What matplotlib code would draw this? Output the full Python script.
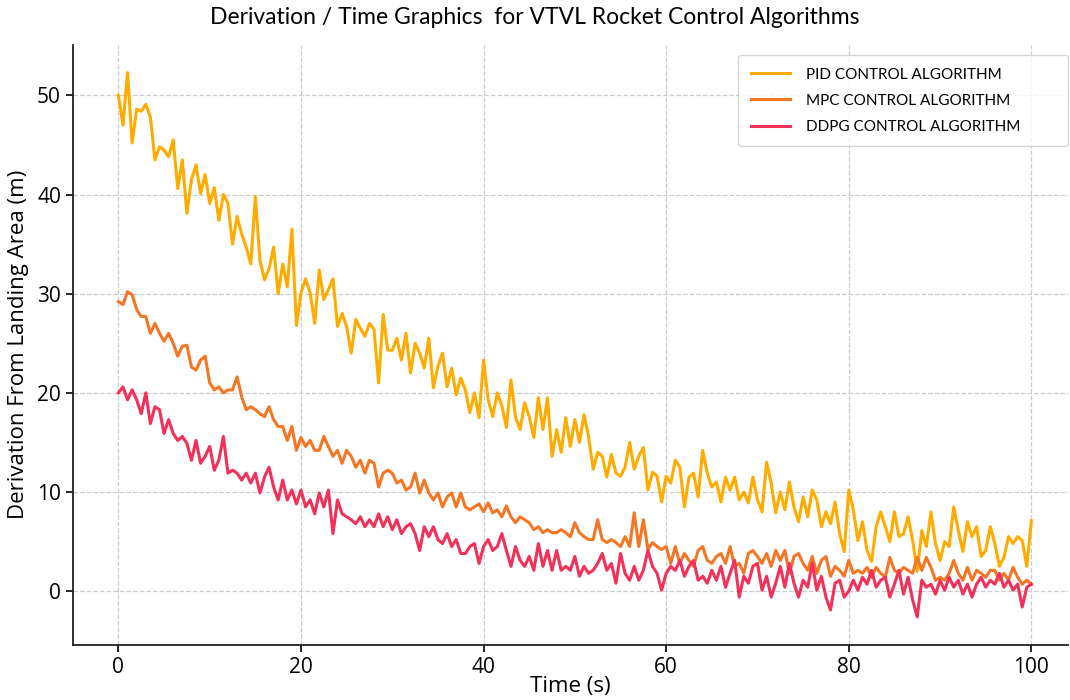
import numpy as np
import matplotlib
matplotlib.use("Agg")
import matplotlib.pyplot as plt

# time axis, one reading every half second
time_s = np.linspace(0, 100, 201)

pid = [
    50.0, 47.0, 52.3, 45.2, 48.6, 48.4, 49.1, 47.8, 43.5, 44.8,
    44.5, 43.8, 45.5, 40.6, 43.5, 38.1, 41.5, 43.0, 40.1, 42.0,
    39.1, 40.7, 37.4, 40.0, 39.1, 35.0, 37.8, 36.0, 34.7, 33.0,
    39.8, 33.4, 31.4, 32.5, 34.7, 30.0, 33.0, 30.7, 36.5, 26.8,
    30.1, 31.5, 30.1, 27.0, 32.4, 29.4, 30.4, 31.5, 26.7, 28.0,
    26.7, 24.0, 27.4, 26.5, 25.7, 27.0, 26.4, 21.0, 27.9, 24.3,
    24.3, 25.5, 23.3, 26.0, 22.0, 25.0, 24.0, 22.5, 25.5, 20.5,
    22.7, 24.0, 20.6, 22.5, 19.8, 21.5, 20.3, 18.0, 20.0, 17.5,
    23.3, 19.3, 17.6, 20.0, 18.7, 16.5, 21.3, 17.5, 16.3, 19.0,
    17.6, 15.5, 19.5, 16.3, 19.5, 13.6, 16.3, 14.0, 17.5, 14.6,
    17.3, 15.0, 17.8, 15.6, 12.3, 14.0, 13.6, 11.5, 13.8, 11.9,
    11.6, 12.5, 15.0, 12.3, 13.6, 14.5, 10.2, 12.0, 11.6, 9.0,
    11.6, 10.9, 13.2, 12.5, 8.5, 11.5, 11.9, 9.5, 14.2, 11.9,
    10.5, 11.0, 9.0, 11.5, 10.2, 11.5, 9.2, 10.0, 8.9, 11.5,
    9.2, 8.0, 13.0, 10.9, 7.9, 10.0, 8.2, 11.0, 8.5, 7.0,
    9.5, 7.5, 10.2, 9.2, 6.5, 8.0, 6.8, 9.0, 5.8, 4.0,
    10.2, 8.2, 5.1, 7.0, 4.1, 3.0, 6.5, 8.0, 6.5, 5.0,
    8.0, 5.5, 5.8, 7.5, 5.1, 2.0, 6.1, 4.5, 8.0, 4.8,
    3.1, 5.0, 4.5, 8.5, 6.1, 4.0, 7.0, 5.5, 6.5, 3.5,
    4.1, 6.5, 4.8, 2.5, 3.4, 5.5, 4.8, 5.5, 5.1, 2.5,
    7.1,
]

mpc = [
    29.2, 28.9, 30.2, 29.9, 28.4, 27.7, 27.7, 26.0, 27.0, 26.0,
    25.2, 26.0, 25.0, 23.7, 24.7, 24.8, 22.6, 22.3, 23.3, 23.7,
    21.0, 20.3, 20.6, 20.0, 20.3, 20.3, 21.6, 19.6, 18.3, 18.6,
    18.3, 17.9, 17.6, 18.6, 17.3, 16.6, 16.6, 15.2, 16.6, 14.2,
    15.5, 14.6, 15.2, 14.2, 14.2, 15.6, 14.6, 13.6, 14.2, 12.9,
    14.2, 13.6, 12.5, 13.2, 11.9, 13.2, 12.9, 10.5, 11.9, 12.2,
    11.9, 10.9, 11.2, 10.2, 10.5, 11.9, 9.9, 11.2, 9.9, 9.2,
    9.9, 8.5, 9.5, 9.9, 8.5, 9.9, 8.5, 8.2, 8.5, 8.8,
    8.0, 8.9, 7.9, 8.2, 7.5, 8.6, 7.5, 6.9, 7.5, 7.2,
    6.9, 6.2, 6.5, 5.9, 6.2, 5.9, 5.9, 6.2, 5.9, 5.5,
    6.9, 5.9, 5.5, 5.2, 5.2, 7.2, 5.2, 4.9, 5.2, 4.9,
    4.5, 5.5, 4.5, 7.9, 4.5, 7.2, 4.2, 4.9, 4.5, 4.2,
    4.5, 2.8, 4.5, 2.8, 3.8, 3.1, 2.5, 4.1, 4.5, 3.1,
    2.8, 3.5, 3.8, 2.8, 4.5, 2.5, 2.8, 1.8, 3.8, 4.1,
    3.5, 2.8, 3.8, 2.5, 4.1, 3.1, 4.1, 1.8, 3.5, 3.8,
    2.8, 2.1, 3.5, 1.8, 3.1, 3.5, 1.5, 2.5, 2.1, 1.5,
    3.1, 1.8, 2.1, 1.8, 2.4, 1.4, 2.4, 1.8, 1.4, 3.4,
    2.1, 1.8, 2.4, 2.1, 1.8, 3.4, 2.1, 3.4, 2.4, 1.1,
    1.4, 1.1, 1.8, 3.1, 1.8, 1.1, 2.4, 1.1, 2.1, 1.8,
    1.4, 2.1, 2.1, 1.1, 1.8, 1.1, 2.4, 1.4, 0.7, 1.1,
    0.7,
]

ddpg = [
    20.0, 20.6, 19.3, 20.3, 19.3, 17.9, 20.0, 16.9, 18.6, 18.3,
    15.9, 17.3, 15.9, 15.2, 15.6, 14.9, 13.2, 15.2, 12.9, 13.6,
    14.6, 12.2, 13.2, 15.6, 11.9, 12.2, 11.9, 11.2, 11.9, 10.9,
    11.9, 9.9, 11.5, 12.5, 10.5, 9.2, 11.2, 9.2, 10.2, 8.8,
    10.2, 8.5, 9.2, 7.8, 9.9, 8.5, 10.2, 5.8, 9.2, 7.8,
    7.5, 7.2, 6.8, 7.5, 6.5, 7.2, 6.5, 7.8, 6.5, 7.5,
    6.2, 7.2, 5.8, 6.5, 6.8, 5.8, 4.1, 6.5, 5.5, 6.5,
    5.2, 4.8, 5.8, 4.5, 5.2, 3.8, 3.8, 4.5, 4.8, 2.8,
    4.5, 5.2, 4.1, 4.5, 5.8, 4.1, 2.5, 4.5, 3.1, 2.5,
    3.5, 2.1, 4.8, 2.5, 4.1, 2.1, 4.1, 2.1, 2.5, 2.1,
    3.5, 1.5, 2.5, 1.8, 2.1, 2.8, 3.8, 2.1, 2.8, 0.8,
    3.8, 1.8, 1.1, 2.5, 1.1, 2.1, 4.1, 2.5, 1.8, 0.1,
    1.8, 2.5, 2.1, 3.1, 1.5, 2.5, 3.1, 1.1, 1.5, 0.8,
    2.1, 1.1, 2.5, 0.4, 1.8, 3.1, -0.6, 1.5, 0.8, 2.5,
    2.8, 0.1, 1.5, -0.6, 0.8, 2.5, 0.4, 2.8, 0.8, -0.6,
    1.1, 0.4, 2.8, 0.1, 1.5, -0.6, -1.9, 0.8, 1.1, -0.6,
    0.0, 1.1, 0.1, 1.4, 0.7, 2.1, 0.4, 1.1, 1.4, -0.6,
    0.7, 2.1, -0.3, 1.4, -0.9, -2.6, 1.1, 0.4, 0.7, -0.3,
    1.1, 0.1, 1.4, 0.4, 1.1, -0.3, 0.7, -0.6, 0.7, 1.4,
    0.4, 1.1, 0.7, 1.8, 0.4, 1.1, 0.1, 0.7, -1.6, 0.4,
    0.7,
]

series = [
    ("PID CONTROL ALGORITHM", pid, "#FFAB00"),
    ("MPC CONTROL ALGORITHM", mpc, "#F47624"),
    ("DDPG CONTROL ALGORITHM", ddpg, "#F2305A"),
]

plt.rcParams["font.family"] = ["Open Sans", "DejaVu Sans"]

fig = plt.figure(figsize=(10.7, 7), dpi=100)
ax = fig.add_axes([0.068, 0.079, 0.93, 0.857])

for name, vals, color in series:
    ax.plot(time_s, vals, color=color, linewidth=2.2, label=name)

ax.set_xlim(-5, 104)
ax.set_ylim(-5.4, 55.1)
ax.set_xticks([0, 20, 40, 60, 80, 100])
ax.set_yticks([0, 10, 20, 30, 40, 50])
ax.tick_params(labelsize=15, length=5, width=1.2)
ax.grid(True, linestyle="--", color="#cccccc", linewidth=0.9)
ax.set_axisbelow(True)
for side in ["top", "right"]:
    ax.spines[side].set_visible(False)
for side in ["left", "bottom"]:
    ax.spines[side].set_linewidth(1.3)
    ax.spines[side].set_color("#222222")

ax.set_xlabel("Time (s)", fontsize=16, labelpad=-1)
ax.set_ylabel("Derivation From Landing Area (m)", fontsize=16, labelpad=6)
fig.suptitle("Derivation / Time Graphics  for VTVL Rocket Control Algorithms",
             fontsize=16.5, y=0.99, family=["Lato", "DejaVu Sans"])

ax.legend(loc="upper left", bbox_to_anchor=(0.690, 0.921, 0.308, 0.0),
          bbox_transform=fig.transFigure, mode="expand",
          handlelength=2.6, handletextpad=1.0, borderpad=0.8,
          labelspacing=0.8, borderaxespad=0.0,
          frameon=True, fancybox=True, edgecolor="#cccccc",
          prop={"family": ["Lato", "DejaVu Sans"], "size": 11})

fig.savefig("out.png", dpi=100)
